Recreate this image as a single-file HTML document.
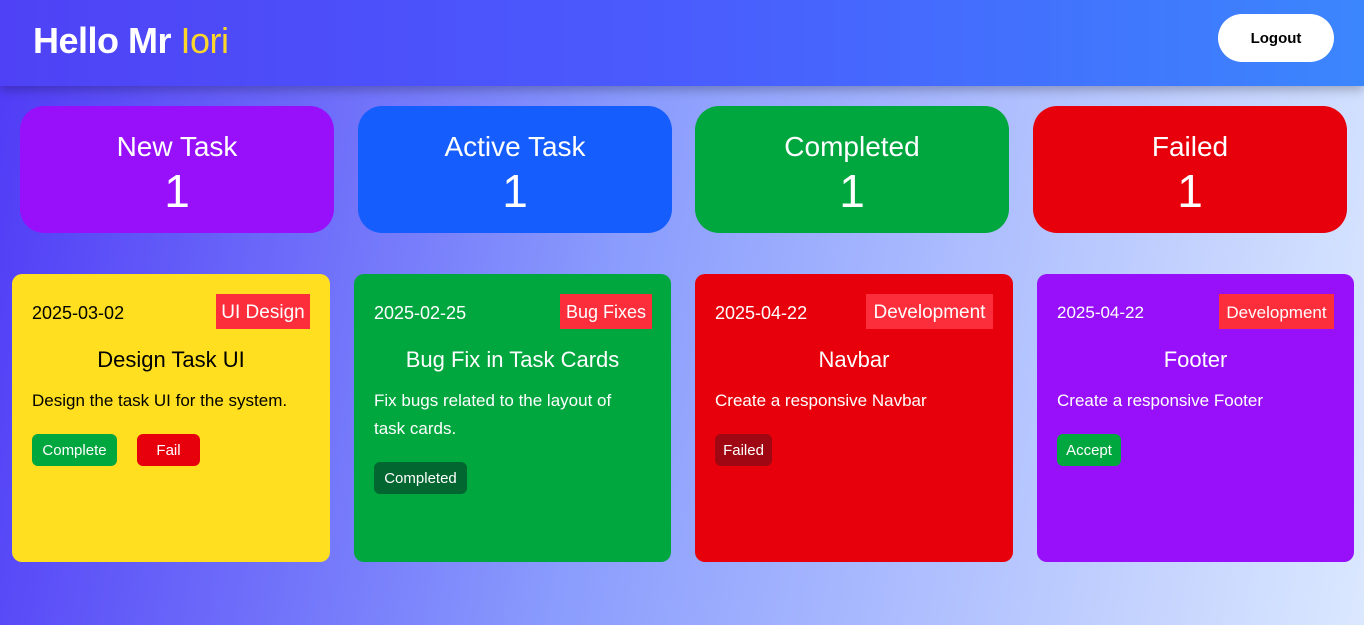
<!DOCTYPE html>
<html><head><meta charset="utf-8"><style>
*{margin:0;padding:0;box-sizing:border-box}
body{width:1364px;height:625px;overflow:hidden;font-family:"Liberation Sans",sans-serif;background:linear-gradient(100deg,#4f3af6 0%,#8a9cfd 45%,#dbe8ff 100%);position:relative}
.hdr{position:absolute;left:0;top:0;width:1364px;height:86px;background:linear-gradient(90deg,#4f42f6,#4a5cfd 50%,#3b86fd);box-shadow:0 4px 10px rgba(0,0,0,.25)}
.hdr h1{position:absolute;left:33px;top:20px;font-size:36px;color:#fff;font-weight:bold;letter-spacing:-0.5px}
.hdr h1 span{color:#fcd62a;font-weight:normal}
.lo{position:absolute;left:1218px;top:14px;width:116px;height:48px;border-radius:24px;background:#fff;font-size:15px;font-weight:bold;text-align:center;line-height:50px;color:#000}
.st{position:absolute;top:106px;height:127px;width:314px;border-radius:24px;color:#fff;text-align:center}
.st .t{position:absolute;top:25px;width:100%;font-size:28px}
.st .n{position:absolute;top:58px;width:100%;font-size:46px}
.c{position:absolute;top:274px;height:288px;width:318px;border-radius:10px;color:#fff}
.d{position:absolute;left:20px;top:29px;font-size:18px}
.tag{position:absolute;top:20px;height:35px;background:#fd2e3b;color:#fff;font-size:19px;line-height:37px;padding:0 4px;white-space:nowrap;text-align:center;overflow:hidden}
.ti{position:absolute;top:73px;width:100%;text-align:center;font-size:22px}
.ds{position:absolute;left:20px;top:113px;font-size:17px;line-height:28px;width:285px}
.b{position:absolute;top:160px;height:32px;border-radius:6px;font-size:15px;line-height:33px;text-align:center;color:#fff}
</style></head><body>
<div class="hdr"><h1>Hello Mr <span>Iori</span></h1><div class="lo">Logout</div></div>
<div class="st" style="left:20px;background:#9810fa"><div class="t">New Task</div><div class="n">1</div></div>
<div class="st" style="left:358px;background:#155dfc"><div class="t">Active Task</div><div class="n">1</div></div>
<div class="st" style="left:695px;background:#00a63e"><div class="t">Completed</div><div class="n">1</div></div>
<div class="st" style="left:1033px;background:#e7000b"><div class="t">Failed</div><div class="n">1</div></div>

<div class="c" style="left:12px;background:#ffdf20;color:#000">
<div class="d">2025-03-02</div><div class="tag" style="left:204px;width:94px">UI Design</div>
<div class="ti">Design Task UI</div><div class="ds">Design the task UI for the system.</div>
<div class="b" style="left:20px;width:85px;background:#00a63e;top:160px">Complete</div>
<div class="b" style="left:125px;width:63px;background:#e7000b">Fail</div></div>

<div class="c" style="left:354px;width:317px;background:#00a63e">
<div class="d">2025-02-25</div><div class="tag" style="left:206px;width:92px;font-size:18px">Bug Fixes</div>
<div class="ti">Bug Fix in Task Cards</div><div class="ds" style="width:270px">Fix bugs related to the layout of task cards.</div>
<div class="b" style="left:20px;width:93px;background:#016630;top:188px">Completed</div></div>

<div class="c" style="left:695px;background:#e7000b">
<div class="d">2025-04-22</div><div class="tag" style="left:171px;width:127px">Development</div>
<div class="ti">Navbar</div><div class="ds">Create a responsive Navbar</div>
<div class="b" style="left:20px;width:57px;background:#9f0712">Failed</div></div>

<div class="c" style="left:1037px;width:317px;background:#9810fa">
<div class="d" style="font-size:17px">2025-04-22</div><div class="tag" style="left:182px;width:115px;font-size:17px">Development</div>
<div class="ti">Footer</div><div class="ds">Create a responsive Footer</div>
<div class="b" style="left:20px;width:64px;background:#00a63e">Accept</div></div>
</body></html>
